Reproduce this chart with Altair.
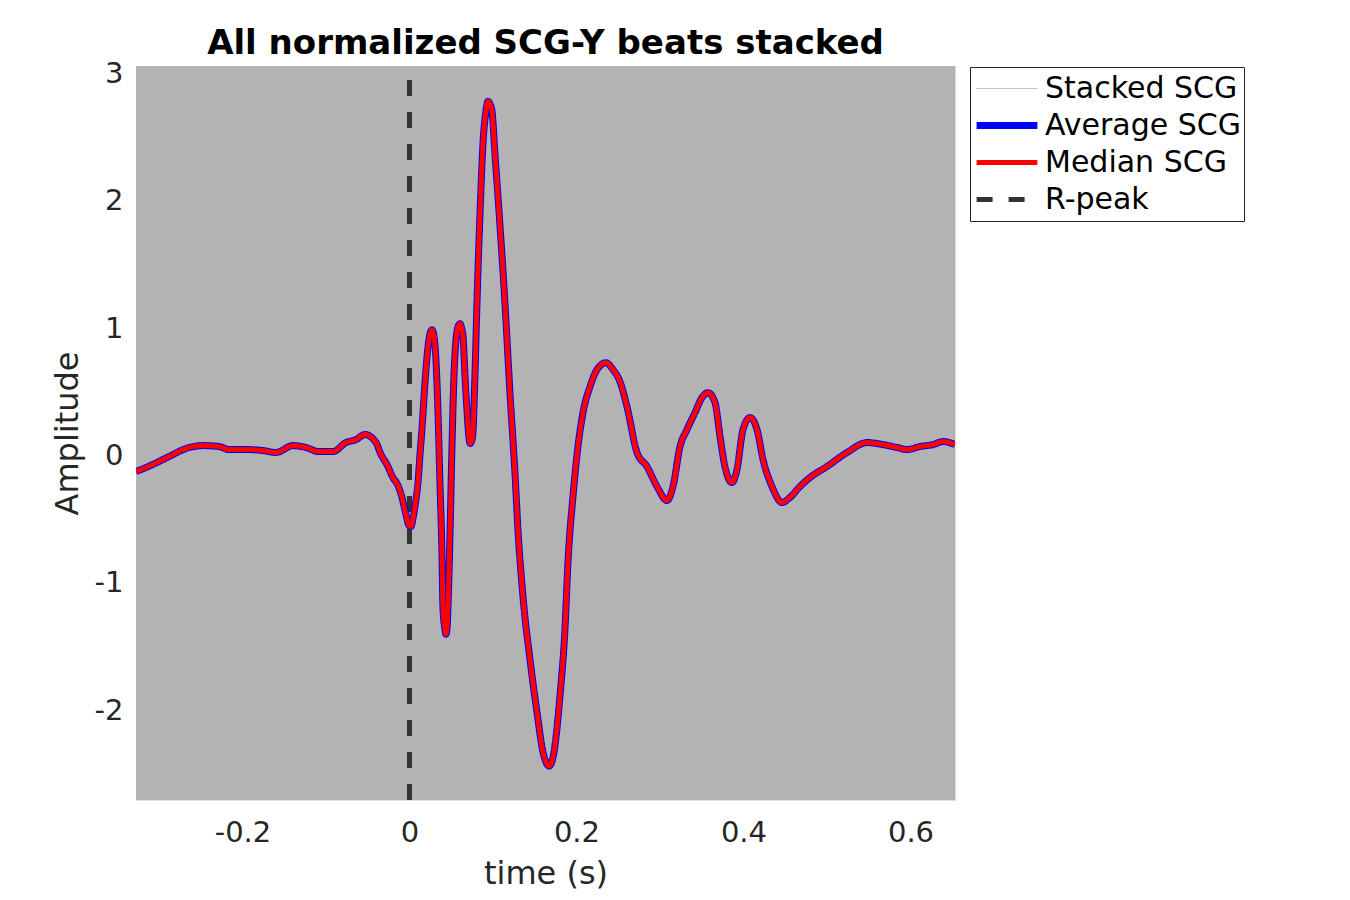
import altair as alt
import pandas as pd

# ---- data ----
time_s = [-0.3275, -0.3156, -0.2880, -0.2677, -0.2473, -0.2281, -0.2162, -0.1958, -0.1754, -0.1599,
          -0.1395, -0.1240, -0.1084, -0.0916, -0.0760, -0.0641, -0.0533, -0.0401, -0.0341, -0.0269,
          -0.0198, -0.0138, -0.0090, -0.0042, -0.0006, 0.0018, 0.0042, 0.0078, 0.0102, 0.0126,
          0.0150, 0.0186, 0.0222, 0.0246, 0.0269, 0.0293, 0.0317, 0.0341, 0.0365, 0.0389,
          0.0401, 0.0425, 0.0437, 0.0449, 0.0461, 0.0485, 0.0509, 0.0533, 0.0557, 0.0581,
          0.0605, 0.0629, 0.0641, 0.0665, 0.0689, 0.0713, 0.0725, 0.0749, 0.0760, 0.0784,
          0.0808, 0.0844, 0.0880, 0.0916, 0.0940, 0.0964, 0.0988, 0.1024, 0.1084, 0.1144,
          0.1204, 0.1263, 0.1299, 0.1359, 0.1443, 0.1527, 0.1599, 0.1647, 0.1671, 0.1695,
          0.1731, 0.1802, 0.1862, 0.1898, 0.1958, 0.2018, 0.2078, 0.2162, 0.2246, 0.2353,
          0.2437, 0.2521, 0.2605, 0.2725, 0.2844, 0.2964, 0.3084, 0.3156, 0.3240, 0.3323,
          0.3419, 0.3503, 0.3575, 0.3659, 0.3719, 0.3778, 0.3862, 0.3922, 0.3994, 0.4078,
          0.4162, 0.4234, 0.4341, 0.4461, 0.4557, 0.4677, 0.4796, 0.5000, 0.5240, 0.5479,
          0.5671, 0.5838, 0.5958, 0.6114, 0.6269, 0.6389, 0.6533]

average_scg = [-0.125, -0.094, -0.008, 0.055, 0.078, 0.071, 0.047, 0.047, 0.039, 0.024,
               0.078, 0.063, 0.031, 0.031, 0.102, 0.125, 0.165, 0.102, 0.008, -0.071,
               -0.173, -0.235, -0.329, -0.463, -0.549, -0.557, -0.494, -0.345, -0.212, 0.008,
               0.212, 0.573, 0.855, 0.957, 0.988, 0.941, 0.753, 0.353, -0.212, -0.769,
               -1.192, -1.365, -1.404, -1.365, -1.192, -0.627, 0.071, 0.627, 0.910, 1.012,
               1.035, 0.988, 0.941, 0.627, 0.353, 0.141, 0.094, 0.125, 0.180, 0.627,
               1.192, 1.890, 2.447, 2.706, 2.784, 2.761, 2.706, 2.369, 1.804, 1.192,
               0.486, -0.133, -0.580, -1.106, -1.600, -2.016, -2.329, -2.424, -2.439, -2.424,
               -2.329, -1.890, -1.365, -0.839, -0.322, 0.071, 0.337, 0.541, 0.675, 0.729,
               0.675, 0.580, 0.384, 0.024, -0.086, -0.243, -0.353, -0.243, 0.071, 0.204,
               0.337, 0.455, 0.494, 0.416, 0.149, -0.086, -0.212, -0.110, 0.204, 0.298,
               0.204, -0.031, -0.243, -0.369, -0.329, -0.243, -0.173, -0.086, 0.024, 0.102,
               0.086, 0.063, 0.047, 0.071, 0.086, 0.110, 0.086]

median_scg = [-0.125, -0.094, -0.008, 0.055, 0.078, 0.071, 0.047, 0.047, 0.039, 0.024,
              0.078, 0.063, 0.031, 0.031, 0.102, 0.125, 0.165, 0.102, 0.008, -0.071,
              -0.173, -0.235, -0.329, -0.463, -0.549, -0.557, -0.494, -0.345, -0.212, 0.008,
              0.212, 0.573, 0.855, 0.957, 0.988, 0.941, 0.753, 0.353, -0.212, -0.769,
              -1.192, -1.365, -1.404, -1.365, -1.192, -0.627, 0.071, 0.627, 0.910, 1.012,
              1.035, 0.988, 0.941, 0.627, 0.353, 0.141, 0.094, 0.125, 0.180, 0.627,
              1.192, 1.890, 2.447, 2.706, 2.784, 2.761, 2.706, 2.369, 1.804, 1.192,
              0.486, -0.133, -0.580, -1.106, -1.600, -2.016, -2.329, -2.424, -2.439, -2.424,
              -2.329, -1.890, -1.365, -0.839, -0.322, 0.071, 0.337, 0.541, 0.675, 0.729,
              0.675, 0.580, 0.384, 0.024, -0.086, -0.243, -0.353, -0.243, 0.071, 0.204,
              0.337, 0.455, 0.494, 0.416, 0.149, -0.086, -0.212, -0.110, 0.204, 0.298,
              0.204, -0.031, -0.243, -0.369, -0.329, -0.243, -0.173, -0.086, 0.024, 0.102,
              0.086, 0.063, 0.047, 0.071, 0.086, 0.110, 0.086]

# envelope of all stacked beats (they fill the whole axis range)
stack_time = [-0.3275, 0.0, 0.3, 0.6533]
stack_upper = [3.06, 3.06, 3.06, 3.06]
stack_lower = [-2.706, -2.706, -2.706, -2.706]

# R-peak marker
rpeak_time = [0.0, 0.0]
rpeak_amp = [-2.706, 3.06]

series_names = ["Stacked SCG", "Average SCG", "Median SCG", "R-peak"]
x_ticks = [-0.2, 0, 0.2, 0.4, 0.6]
y_ticks = [-2, -1, 0, 1, 2, 3]
x_domain = [-0.3275, 0.6533]
y_domain = [-2.706, 3.06]

# ---- tables ----
df_stack = pd.DataFrame({"t": stack_time, "lo": stack_lower, "hi": stack_upper})
df_avg = pd.DataFrame({"t": time_s, "v": average_scg, "series": "Average SCG"})
df_med = pd.DataFrame({"t": time_s, "v": median_scg, "series": "Median SCG"})
df_r = pd.DataFrame({"t": rpeak_time, "v": rpeak_amp, "series": "R-peak"})

FONT = "DejaVu Sans"

x_enc = alt.X("t:Q", scale=alt.Scale(domain=x_domain, nice=False, zero=False),
              axis=alt.Axis(values=x_ticks, title="time (s)", labelExpr="toString(datum.value)",
                            grid=False, ticks=False, domain=False, labelFontSize=29,
                            titleFontSize=32, labelFont=FONT, titleFont=FONT,
                            labelColor="#262626", titleColor="#262626", titleFontWeight="normal",
                            labelPadding=18, titlePadding=11, labelFlush=False))
y_enc = alt.Y("v:Q", scale=alt.Scale(domain=y_domain, nice=False, zero=False),
              axis=alt.Axis(values=y_ticks, title="Amplitude", labelExpr="toString(datum.value)",
                            grid=False, ticks=False, domain=False, labelFontSize=29,
                            titleFontSize=32, labelFont=FONT, titleFont=FONT,
                            labelColor="#262626", titleColor="#262626", titleFontWeight="normal",
                            labelPadding=13, titlePadding=10, labelFlush=False))

legend = alt.Legend(title=None, orient="none", legendX=834, legendY=1, symbolType="stroke",
                    symbolSize=3700, labelFontSize=30, labelFont=FONT, labelColor="black",
                    strokeColor="#262626", fillColor="white", padding=3, rowPadding=0,
                    clipHeight=37, labelOffset=4, labelLimit=400)

color_enc = alt.Color("series:N", scale=alt.Scale(domain=series_names,
                      range=["#b3b3b3", "#0000ff", "#ff0000", "#333333"]), legend=legend)
width_enc = alt.StrokeWidth("series:N", scale=alt.Scale(type="ordinal", domain=series_names,
                            range=[1, 7, 5, 5]), legend=legend)
dash_enc = alt.StrokeDash("series:N", scale=alt.Scale(domain=series_names,
                          range=[[1, 0], [1, 0], [1, 0], [16, 16]]), legend=legend)

stack = alt.Chart(df_stack).mark_area(color="#b3b3b3", clip=True).encode(
    x=x_enc, y=alt.Y("lo:Q", scale=alt.Scale(domain=y_domain, nice=False, zero=False)), y2="hi:Q")

rpeak = alt.Chart(df_r).mark_line(clip=True, strokeCap="butt").encode(
    x=x_enc, y=y_enc, color=color_enc, strokeWidth=width_enc, strokeDash=dash_enc)
avg = alt.Chart(df_avg).mark_line(clip=True, interpolate="monotone").encode(
    x=x_enc, y=y_enc, color=color_enc, strokeWidth=width_enc, strokeDash=dash_enc)
med = alt.Chart(df_med).mark_line(clip=True, interpolate="monotone").encode(
    x=x_enc, y=y_enc, color=color_enc, strokeWidth=width_enc, strokeDash=dash_enc)

chart = alt.layer(stack, rpeak, avg, med).properties(
    width=819, height=734,
    title=alt.TitleParams("All normalized SCG-Y beats stacked", fontSize=34, font=FONT,
                          fontWeight="bold", color="black", anchor="middle",
                          baseline="alphabetic", offset=10, dy=38),
    autosize=alt.AutoSizeParams(type="none"),
    padding={"left": 128, "top": 58, "right": 300, "bottom": 90},
).configure_view(stroke=None).configure(background="white")

chart.save("out.html", embed_options={"renderer": "svg", "actions": False})
